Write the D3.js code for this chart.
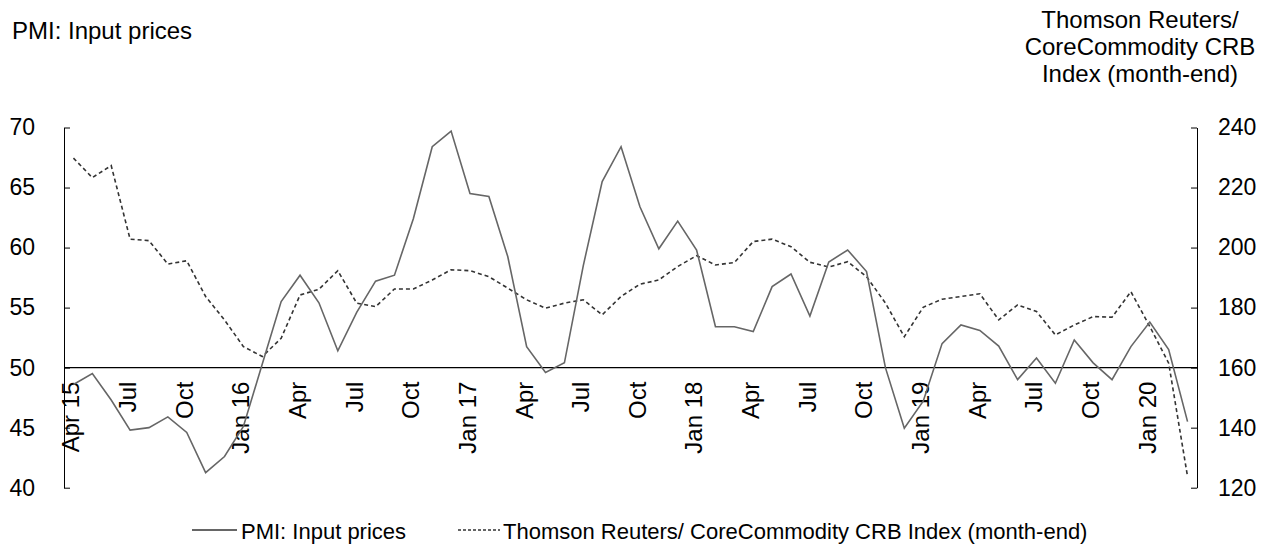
<!DOCTYPE html>
<html>
<head>
<meta charset="utf-8">
<script src="https://cdnjs.cloudflare.com/ajax/libs/d3/7.8.5/d3.min.js"></script>
<style>
  body { margin: 0; background: #fff; }
  text { font-family: Arial, "Liberation Sans", sans-serif; fill: #000; }
</style>
</head>
<body>
<div id="graph"></div>
<script>
// months Apr 15 .. Mar 20
var months = d3.timeMonth.range(new Date(2015, 3, 1), new Date(2020, 3, 1));

// PMI: Input prices (left axis)
var pmi = [48.6, 49.5, 47.3, 44.8, 45.0, 45.9, 44.6, 41.25, 42.6, 45.1,
  50.3, 55.5, 57.7, 55.4, 51.4, 54.6, 57.2, 57.7, 62.4, 68.4,
  69.7, 64.5, 64.25, 59.25, 51.75, 49.6, 50.4, 58.5, 65.5, 68.4,
  63.4, 59.9, 62.2, 59.8, 53.4, 53.4, 53.0, 56.75, 57.8, 54.3,
  58.8, 59.8, 58.0, 50.0, 44.95, 47.2, 52.0, 53.55, 53.1, 51.8,
  49.0, 50.8, 48.7, 52.3, 50.4, 49.0, 51.75, 53.8, 51.5, 45.5];

// Thomson Reuters/ CoreCommodity CRB Index, month-end (right axis)
var crb = [229.8, 223.3, 227.3, 202.8, 202.3, 194.5, 195.6, 183.7, 175.9, 167.0,
  163.7, 169.8, 184.2, 186.1, 192.3, 181.5, 180.3, 186.2, 186.2, 189.2,
  192.6, 192.3, 190.3, 186.5, 182.6, 179.8, 181.5, 182.6, 177.6, 183.7,
  187.8, 189.2, 193.7, 197.3, 194.2, 195.0, 202.0, 202.8, 200.3, 195.1,
  193.5, 195.3, 190.3, 181.5, 170.3, 180.1, 182.8, 183.7, 184.6, 175.9,
  180.9, 178.7, 170.9, 174.2, 177.0, 176.8, 185.3, 173.7, 161.5, 123.7];

// x tick labels, every 3rd month
var tickLabels = ["Apr 15", "Jul", "Oct", "Jan 16", "Apr", "Jul", "Oct", "Jan 17",
  "Apr", "Jul", "Oct", "Jan 18", "Apr", "Jul", "Oct", "Jan 19",
  "Apr", "Jul", "Oct", "Jan 20"];

var leftTicks = [40, 45, 50, 55, 60, 65, 70];
var rightTicks = [120, 140, 160, 180, 200, 220, 240];

var width = 1271, height = 545;
var margin = {top: 128, right: 74, bottom: 57, left: 64};

var svg = d3.select("#graph").append("svg")
    .attr("width", width)
    .attr("height", height);

var x = d3.scalePoint()
    .domain(d3.range(months.length))
    .range([margin.left, width - margin.right])
    .padding(0.5);

var yL = d3.scaleLinear().domain([40, 70]).range([height - margin.bottom - 0.3, margin.top - 0.5]);
var yR = d3.scaleLinear().domain([120, 240]).range([height - margin.bottom - 0.3, margin.top - 0.5]);

// left axis
svg.append("g")
    .attr("transform", "translate(" + margin.left + ",0)")
    .call(d3.axisLeft(yL).tickValues(leftTicks).tickSizeInner(-6).tickSizeOuter(0).tickPadding(29))
    .call(function(g) {
      g.selectAll("text").style("font-size", "23px").style("font-family", "Arial, 'Liberation Sans', sans-serif").attr("fill", "#000");
      g.selectAll("line, path").attr("stroke", "#000");
    });

// right axis
svg.append("g")
    .attr("transform", "translate(" + (width - margin.right) + ",0)")
    .call(d3.axisRight(yR).tickValues(rightTicks).tickSizeInner(-6).tickSizeOuter(0).tickPadding(21))
    .call(function(g) {
      g.selectAll("text").style("font-size", "23px").style("font-family", "Arial, 'Liberation Sans', sans-serif").attr("fill", "#000");
      g.selectAll("line, path").attr("stroke", "#000");
    });

// horizontal line at 50, with month labels hanging below it
var xAxis = svg.append("g")
    .attr("transform", "translate(0," + yL(50) + ")")
    .call(d3.axisBottom(x)
      .tickValues(d3.range(0, months.length, 3))
      .tickSize(0)
      .tickFormat(function(d, i) { return tickLabels[i]; }));

xAxis.select(".domain")
    .attr("stroke", "#000")
    .attr("stroke-width", 1.2)
    .attr("d", "M" + margin.left + ",0H" + (width - margin.right));

xAxis.selectAll("text")
    .style("font-size", "24px")
    .style("font-family", "Arial, 'Liberation Sans', sans-serif")
    .attr("fill", "#000")
    .attr("text-anchor", "end")
    .attr("transform", "rotate(-90)")
    .attr("x", -14)
    .attr("y", -3)
    .attr("dy", "0.35em");

// lines
var pmiLine = d3.line()
    .x(function(d, i) { return x(i); })
    .y(function(d) { return yL(d); });

var crbLine = d3.line()
    .x(function(d, i) { return x(i); })
    .y(function(d) { return yR(d); });

svg.append("path")
    .datum(crb)
    .attr("fill", "none")
    .attr("stroke", "#333")
    .attr("stroke-width", 1.6)
    .attr("stroke-dasharray", "4,3")
    .attr("d", crbLine);

svg.append("path")
    .datum(pmi)
    .attr("fill", "none")
    .attr("stroke", "#666")
    .attr("stroke-width", 1.6)
    .attr("d", pmiLine);

// titles
svg.append("text")
    .attr("x", 12)
    .attr("y", 39)
    .style("font-size", "24px")
    .text("PMI: Input prices");

var rt = svg.append("text")
    .attr("text-anchor", "middle")
    .style("font-size", "24px");
["Thomson Reuters/", "CoreCommodity CRB", "Index (month-end)"].forEach(function(s, i) {
  rt.append("tspan").attr("x", 1140).attr("y", 28 + i * 27).text(s);
});

// legend
var legend = svg.append("g").attr("transform", "translate(0,530)");
legend.append("line")
    .attr("x1", 192).attr("x2", 237).attr("y1", 0).attr("y2", 0)
    .attr("stroke", "#333").attr("stroke-width", 1.3);
legend.append("text")
    .attr("x", 241).attr("y", 9)
    .style("font-size", "22px")
    .text("PMI: Input prices");
legend.append("line")
    .attr("x1", 458).attr("x2", 500).attr("y1", 0).attr("y2", 0)
    .attr("stroke", "#333").attr("stroke-width", 1.3)
    .attr("stroke-dasharray", "3,2");
legend.append("text")
    .attr("x", 503).attr("y", 9)
    .style("font-size", "22px")
    .text("Thomson Reuters/ CoreCommodity CRB Index (month-end)");
</script>
</body>
</html>
